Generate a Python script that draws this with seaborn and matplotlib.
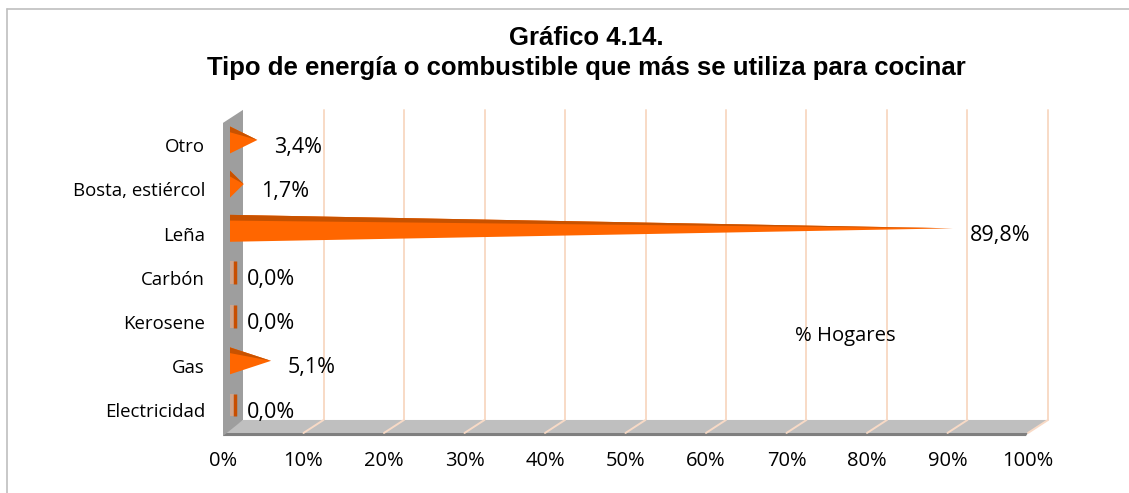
import numpy as np
import pandas as pd
import matplotlib
matplotlib.use("Agg")
import matplotlib.pyplot as plt
import seaborn as sns
from matplotlib.patches import Polygon
from matplotlib.lines import Line2D

# datos del gráfico (de abajo hacia arriba)
categorias = ["Electricidad", "Gas", "Kerosene", "Carbón", "Leña", "Bosta, estiércol", "Otro"]
porcentajes = [0.0, 5.1, 0.0, 0.0, 89.8, 1.7, 3.4]
ticks_x = [0, 10, 20, 30, 40, 50, 60, 70, 80, 90, 100]
etiquetas_x = [f"{t}%" for t in ticks_x]
serie = "% Hogares"
titulo_1 = "Gráfico 4.14."
titulo_2 = "Tipo de energía o combustible que más se utiliza para cocinar"

W, H = 1129, 493
sns.set_style("white")
plt.rcParams["font.family"] = ["Open Sans", "DejaVu Sans"]
plt.rcParams["text.color"] = "black"
plt.rcParams["xtick.color"] = "black"
plt.rcParams["ytick.color"] = "black"

fig = plt.figure(figsize=(W / 100, H / 100), dpi=100)

# geometría en píxeles del área de trazado
PX_LEFT, PX_RIGHT, PX_TOP, PX_BOTTOM = 215, 1070, 100, 445
X0_PX, SX = 230, 8.05    # 0 % en el plano de los conos, px por %
Y0_PX, SY = 405, 44.17   # centro de la primera categoría, px por categoría
ax = fig.add_axes([PX_LEFT / W, 1 - PX_BOTTOM / H,
                   (PX_RIGHT - PX_LEFT) / W, (PX_BOTTOM - PX_TOP) / H])

df = pd.DataFrame({"tipo": categorias, "pct": porcentajes})
sns.barplot(data=df, x="pct", y="tipo", order=categorias, orient="h",
            color="#FF6600", saturation=1, ax=ax)
barras = list(ax.containers[0])

ax.set_xlim((PX_LEFT - X0_PX) / SX, (PX_RIGHT - X0_PX) / SX)
ax.set_ylim((Y0_PX - PX_BOTTOM) / SY, (Y0_PX - PX_TOP) / SY)
ax.set_xlabel("")
ax.set_ylabel("")
for s in ax.spines.values():
    s.set_visible(False)

# caja 3D: desplazamientos del plano frontal y trasero respecto a los conos
fx, fy = -7 / SX, -4.55 / SY
bx, by = 13 / SX, 8.45 / SY
floor_y, top_y = -0.53, 6.49
grid_c = "#F8DAC6"

# líneas de la pared del fondo
for t in ticks_x[1:]:
    ax.plot([t + bx, t + bx], [floor_y + by, top_y + by], color=grid_c, lw=1.4, zorder=1)

# piso
ax.add_patch(Polygon([(fx, floor_y + fy), (bx, floor_y + by), (100 + bx, floor_y + by),
                      (100 + fx, floor_y + fy)], closed=True, fc="#BFBFBF", ec="none", zorder=2))
ax.add_patch(Polygon([(fx, floor_y + fy), (100 + fx, floor_y + fy),
                      (100 + fx - 0.25, floor_y + fy - 0.07), (fx, floor_y + fy - 0.07)],
                     closed=True, fc="#7F7F7F", ec="none", zorder=2))
for t in ticks_x[1:]:
    ax.plot([t + fx, t + bx], [floor_y + fy, floor_y + by], color=grid_c, lw=1.4, zorder=3)

# pared lateral
ax.add_patch(Polygon([(fx, floor_y + fy - 0.07), (fx, top_y + fy), (bx, top_y + by),
                      (bx, floor_y + by)], closed=True, fc="#9E9E9E", ec="none", zorder=4))

# conos
light, dark = "#FF6600", "#C85200"
half = 0.305
for p in barras:
    v = p.get_width()
    yc = p.get_y() + p.get_height() / 2
    p.set_visible(False)
    if v > 0:
        ax.add_patch(Polygon([(0, yc - half), (0, yc + half), (v, yc)], closed=True,
                             fc=light, ec="none", zorder=5))
        ax.add_patch(Polygon([(0, yc + half), (0, yc + half - 0.13), (v, yc)], closed=True,
                             fc=dark, ec="none", zorder=6))
    else:
        ax.add_patch(Polygon([(0, yc - 0.26), (0, yc + 0.26), (0.5, yc + 0.26), (0.5, yc - 0.26)],
                             closed=True, fc="#CDA48C", ec="none", zorder=5))
        ax.plot([0.65, 0.65], [yc - 0.26, yc + 0.26], color="#C84E00", lw=2.5, zorder=6,
                solid_capstyle="butt")
    ax.text(v + 2.1, yc - 0.16, f"{v:.1f}".replace(".", ",") + "%", ha="left", va="center",
            fontsize=15.5, color="black", zorder=7)

# ejes
ax.set_yticks([i - 0.12 for i in range(len(categorias))], categorias)
ax.set_xticks([t + fx for t in ticks_x], etiquetas_x)
ax.tick_params(axis="y", length=0, pad=7.2, labelsize=13.4)
ax.tick_params(axis="x", length=0, pad=4, labelsize=14.5)

# leyenda
h = Line2D([], [], linestyle="none")
ax.legend([h], [serie], loc="center", bbox_to_anchor=(76.4, 1.56), bbox_transform=ax.transData,
          frameon=False, handlelength=0, handletextpad=0, fontsize=14.6)

# título
fig.text(586 / W, 1 - 38 / H, titulo_1, ha="center", va="center", fontsize=18.5,
         fontweight="bold", family="Liberation Sans", color="black")
fig.text(586 / W, 1 - 68 / H, titulo_2, ha="center", va="center", fontsize=18.5,
         fontweight="bold", family="Liberation Sans", color="black")

# marco del gráfico
fig.add_artist(Line2D([7 / W, 1], [1 - 9 / H, 1 - 9 / H], color="#BFBFBF", lw=1.2))
fig.add_artist(Line2D([7 / W, 7 / W], [0, 1 - 9 / H], color="#BFBFBF", lw=1.2))

fig.savefig("out.png", dpi=100)
